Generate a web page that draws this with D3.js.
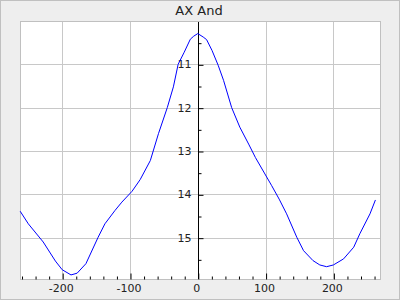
<!DOCTYPE html>
<html lang="en">
<head>
    <meta charset="UTF-8">
    <title>AX And</title>
    <script src="https://cdn.jsdelivr.net/npm/d3@7/dist/d3.min.js"></script>
    <style>
        body { margin: 0; }
        svg { display: block; font-family: "DejaVu Sans", sans-serif; }
        path.curve {
            stroke: #0000ff;
            stroke-width: 1px;
            fill: none;
        }
        line.grid { stroke: #c8c8c8; stroke-width: 1px; }
        text.tick { font-size: 11px; fill: #222; }
    </style>
</head>
<body>

<svg width="400" height="300" viewBox="0 0 400 300"></svg>

<script>

    // light curve
    let phase = [-262, -250, -228, -210, -200, -187, -178, -165, -147, -137, -122, -112, -97, -85, -70,
        -58, -45, -36, -29, -20, -11, -6, 0, 8, 13, 21, 30, 38, 50, 62, 75, 85, 99, 109, 120,
        131, 146, 156, 170, 180, 190, 200, 215, 230, 239, 254, 262]
    let mag = [14.39, 14.68, 15.10, 15.54, 15.74, 15.86, 15.82, 15.60, 14.99, 14.68, 14.37, 14.18, 13.93, 13.66, 13.22,
        12.60, 12.00, 11.52, 11.00, 10.72, 10.42, 10.35, 10.29, 10.37, 10.43, 10.68, 11.02, 11.37, 12.00, 12.45, 12.84, 13.15, 13.53, 13.80, 14.11,
        14.45, 14.99, 15.30, 15.53, 15.63, 15.67, 15.63, 15.49, 15.22, 14.91, 14.45, 14.13]

    let xTicks = [-200, -100, 0, 100, 200]
    let yTicks = [11, 12, 13, 14, 15]
    let title = "AX And"

    let data = d3.map(phase, function (d, i) { return {phase: d, mag: mag[i]} })

    let svg = d3.select('svg')
    let box = {left: 20.5, right: 380.5, top: 21, bottom: 281}

    let xScale = d3.scaleLinear().domain([-261.5, 269.5]).range([box.left, box.right])
    // magnitudes: brighter is up
    let yScale = d3.scaleLinear().domain([10, 16]).range([box.top, box.bottom])

    // frame
    svg.append('rect').attr('x', 0.5).attr('y', 0.5).attr('width', 399).attr('height', 299)
        .attr('fill', '#eeeeee').attr('stroke', '#c0c0c0')
    svg.append('rect').attr('x', box.left).attr('y', 21.5)
        .attr('width', box.right - box.left).attr('height', 258)
        .attr('fill', '#ffffff').attr('stroke', '#c0c0c0')

    svg.append('text').attr('x', 199).attr('y', 15).attr('text-anchor', 'middle')
        .style('font-size', '13px').attr('fill', '#222').text(title)

    // grid
    svg.append('g').selectAll('line').data(xTicks).enter().append('line').attr('class', 'grid')
        .attr('x1', function (d) { return Math.round(xScale(d)) + 0.5 })
        .attr('x2', function (d) { return Math.round(xScale(d)) + 0.5 })
        .attr('y1', 22).attr('y2', 279)
    svg.append('g').selectAll('line').data(yTicks).enter().append('line').attr('class', 'grid')
        .attr('y1', function (d) { return Math.round(yScale(d)) + 0.5 })
        .attr('y2', function (d) { return Math.round(yScale(d)) + 0.5 })
        .attr('x1', 21).attr('x2', 380)

    // x axis at the bottom, ticks pointing up
    let xAxis = d3.axisTop(xScale).tickValues(d3.range(-260, 261, 20))
        .tickSize(3).tickFormat('')
    let xg = svg.append('g').attr('transform', 'translate(0.5,279.5)').call(xAxis)
    xg.select('.domain').remove()
    xg.selectAll('.tick line').attr('stroke', '#000')
        .attr('y2', function (d) { return d % 100 === 0 ? -6 : -3 })
    svg.append('g').selectAll('text').data(xTicks).enter().append('text').attr('class', 'tick')
        .attr('x', function (d) { return xScale(d) - 1 }).attr('y', 292)
        .attr('text-anchor', 'middle').text(function (d) { return d })

    // y axis through phase 0, ticks to the right
    let x0 = Math.round(xScale(0)) + 0.5
    let yAxis = d3.axisRight(yScale).tickValues(d3.range(10.5, 16, 0.5))
        .tickSize(3).tickFormat('')
    let yg = svg.append('g').attr('transform', 'translate(' + x0 + ',0.5)').call(yAxis)
    yg.select('.domain').remove()
    yg.selectAll('.tick line').attr('stroke', '#000')
        .attr('x2', function (d) { return d % 1 === 0 ? 5 : 3 })
    svg.append('line').attr('x1', x0).attr('x2', x0).attr('y1', 22).attr('y2', 279).attr('stroke', '#000')
    svg.append('g').selectAll('text').data(yTicks).enter().append('text').attr('class', 'tick')
        .attr('x', x0 - 7).attr('y', function (d) { return yScale(d) + 4 })
        .attr('text-anchor', 'end').text(function (d) { return d })

    // curve
    let line = d3.line()
        .x(function (d) { return xScale(d.phase) })
        .y(function (d) { return yScale(d.mag) })
    svg.append('path').datum(data).attr('class', 'curve').attr('d', line)

</script>

</body>
</html>
